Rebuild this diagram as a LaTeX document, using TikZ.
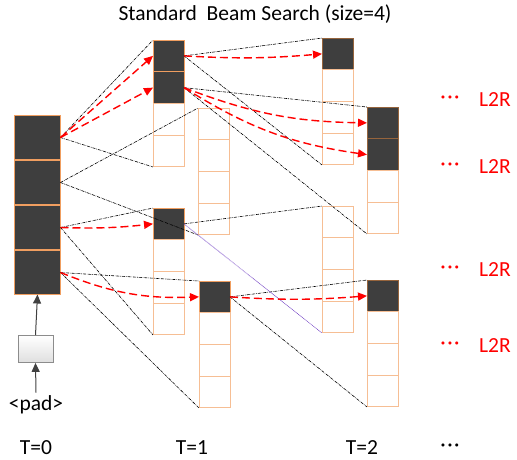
\documentclass[tikz,border=0pt]{standalone}
\usepackage{fontspec}
\setmainfont{Carlito}
\usetikzlibrary{arrows.meta}
\definecolor{cellline}{RGB}{240,158,96}
\definecolor{celllight}{RGB}{246,190,148}
\definecolor{cellbrown}{RGB}{150,100,60}
\definecolor{celldark}{RGB}{62,62,62}
\definecolor{padgray}{RGB}{64,64,64}
\definecolor{beamviolet}{RGB}{125,80,200}

\begin{document}
\begin{tikzpicture}[x=1pt,y=-1pt,
    cell/.style={draw=celllight,line width=1pt,fill=white,inner sep=0pt,outer sep=0pt,
      minimum width=31pt,minimum height=31.7pt},
    darkcell/.style={cell,draw=cellline,fill=celldark},
    darkcellb/.style={cell,draw=cellbrown,fill=celldark},
    bigcell/.style={draw=cellline,line width=1.5pt,fill=celldark,inner sep=0pt,outer sep=0pt,
      minimum width=46pt,minimum height=44pt},
    beamline/.style={black,line width=0.6pt,dash pattern=on 3pt off 1pt on 0.6pt off 1pt},
    redarrow/.style={red,line width=1.4pt,dash pattern=on 8pt off 4pt,
      -{Triangle[length=9pt,width=8pt]}},
    padarrow/.style={padgray,line width=1pt,-{Triangle[length=9pt,width=8pt]}},
    lbl/.style={font=\fontsize{21.5}{21.5}\selectfont,inner sep=0pt}]
  \useasboundingbox (0,0) rectangle (517,459);
  %\draw[help lines,step=20] (0,0) grid (517,459);

  \node[lbl] (title) at (255,14) {Standard\ \ Beam Search (size=4)};

  % T=0
  \foreach \i in {1,...,4}
    \node[bigcell] (z\i) at (37.5,92.5+45*\i) {};
  \node[draw=padgray!60,line width=0.8pt,top color=white,bottom color=gray!25,
    minimum width=35pt,minimum height=27pt,inner sep=0pt] (pad) at (35.5,349) {};
  \node[lbl] (padtext) at (36,405) {<pad>};
  \draw[padarrow] (pad.north) -- (z4.south);
  \draw[padarrow] (padtext.north) ++(0,-3) -- (pad.south);

  % T=1 and T=2
  \foreach \col/\x/\y/\k/\ds in {a/168.5/40/2/darkcell, b/213.5/108/0/darkcell,
      c/168.5/208/1/darkcell, d/214.5/281/1/darkcell, e/337.5/38/1/darkcellb,
      f/382.5/107/2/darkcellb, g/337.5/206/0/darkcellb, h/382.5/280/1/darkcellb}{
    \foreach \i in {1,...,4}{
      \ifnum\i>\k \def\sty{cell}\else\def\sty{\ds}\fi
      \node[\sty] (\col\i) at (\x,\y+31.75*\i-15.875) {};
    }
  }

  % fans
  \foreach \s/\t in {z1/a, z2/b, z3/c, z4/d, a1/e, a2/f, d1/h}{
    \draw[beamline] (\s.east) -- (\t1.north west);
    \draw[beamline] (\s.east) -- (\t4.south west);
  }
  \draw[beamline] (c1.east) -- (g1.north west);
  \draw[beamviolet,line width=0.6pt,dash pattern=on 1pt off 0.6pt] (c1.east) -- (g4.south west);

  % kept beams
  \draw[redarrow] (z1.east) -- (a1.west);
  \draw[redarrow] (z1.east) -- (a2.west);
  \draw[redarrow] (z3.east) to[bend right=4] (c1.west);
  \draw[redarrow] (z4.east) to[bend right=12] (d1.west);
  \draw[redarrow] (a1.east) to[bend right=4] (e1.west);
  \draw[redarrow] (a2.east) to[bend right=10] (f1.west);
  \draw[redarrow] (a2.east) to[bend right=12] (f2.west);
  \draw[redarrow] (d1.east) to[bend right=4] (h1.west);

  \foreach \n/\yy in {r1/100, r2/167, r3/270, r4/346}{
    \node[lbl,red] (\n) at (450,\yy) {·\kern1.5pt·\kern1.5pt·};
    \node[lbl,red] (\n l) at (495,\yy) {L2R};
  }

  \node[lbl] (t0) at (36,448) {T=0};
  \node[lbl] (t1) at (192,448) {T=1};
  \node[lbl] (t2) at (362,448) {T=2};
  \node[lbl] (tn) at (450,448) {·\kern1.5pt·\kern1.5pt·};
\end{tikzpicture}
\end{document}
